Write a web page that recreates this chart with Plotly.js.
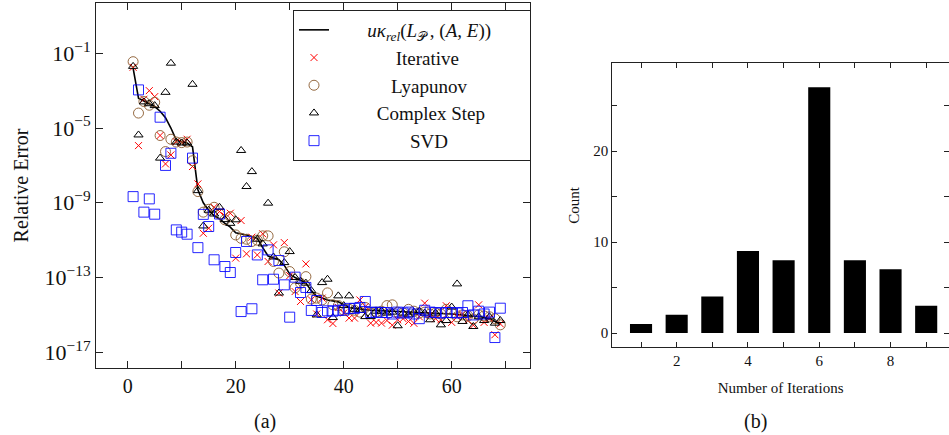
<!DOCTYPE html>
<html>
<head>
<meta charset="utf-8">
<script src="https://cdn.plot.ly/plotly-3.0.1.min.js"></script>
<style>html,body{margin:0;padding:0;background:#fff;}#chart{width:949px;height:435px;}</style>
</head>
<body>
<div id="chart"></div>
<script>
// ---- Data: panel (a) ----
const problemIndex = [1,2,3,4,5,6,7,8,9,10,11,12,13,14,15,16,17,18,19,20,21,22,23,24,25,26,27,28,29,30,31,32,33,34,35,36,37,38,39,40,41,42,43,44,45,46,47,48,49,50,51,52,53,54,55,56,57,58,59,60,61,62,63,64,65,66,67,68,69];
// values stored as log10 of relative error
const kappaLog10 = [-1.8,-3.4,-3.55,-3.7,-3.85,-4.1,-4.45,-5.0,-5.65,-5.75,-5.8,-6.0,-8.3,-9.0,-9.4,-9.7,-9.85,-10.1,-10.3,-10.6,-10.65,-10.72,-10.8,-10.9,-11.4,-11.85,-11.95,-12.05,-12.35,-12.8,-13.0,-13.15,-13.3,-13.7,-14.0,-14.1,-14.2,-14.25,-14.3,-14.45,-14.6,-14.65,-14.7,-14.72,-14.75,-14.77,-14.78,-14.8,-14.8,-14.82,-14.83,-14.84,-14.85,-14.85,-14.86,-14.87,-14.88,-14.9,-14.92,-14.95,-14.97,-15.0,-15.02,-15.05,-15.08,-15.12,-15.2,-15.35,-15.5];
const iterativeLog10 = [-1.75,-5.94,-3.46,-3.0,-3.32,-5.4,-6.92,-6.44,-5.73,-5.78,-5.6,-7.06,-7.99,-10.63,-10.36,-9.24,-9.47,-9.7,-9.56,-11.96,-9.95,-11.73,-10.84,-11.79,-10.66,-12.14,-11.25,-13.83,-11.13,-12.9,-13.75,-14.28,-12.27,-14.19,-14.95,-14.1,-15.26,-15.46,-14.6,-14.9,-15.17,-15.17,-14.2,-14.55,-15.44,-15.4,-15.44,-15.3,-15.55,-15.26,-15.2,-15.35,-15.45,-15.1,-14.37,-15.0,-15.2,-15.26,-14.51,-15.4,-15.1,-14.95,-15.3,-15.55,-14.46,-15.4,-15.2,-16.06,-15.48];
const lyapunovLog10 = [-1.45,-4.2,-3.58,-3.78,-3.62,-5.4,-6.26,-5.6,-5.75,-5.78,-5.75,-6.75,-8.4,-9.5,-9.35,-9.24,-9.6,-9.91,-9.74,-10.72,-10.9,-10.95,-11.07,-11.0,-10.77,-10.77,-12.14,-12.76,-11.62,-12.68,-13.55,-13.3,-12.95,-14.15,-14.1,-14.2,-13.82,-14.46,-14.5,-14.75,-14.7,-14.75,-14.85,-14.6,-14.9,-14.85,-14.8,-14.5,-14.46,-14.85,-14.9,-14.7,-14.8,-14.9,-14.85,-14.95,-14.9,-14.95,-14.7,-14.9,-15.1,-15.0,-15.05,-15.22,-15.0,-15.05,-15.1,-15.2,-15.53];
const complexStepLog10 = [-1.7,-5.37,-3.6,-3.7,-3.8,-6.61,-3.09,-1.53,-5.75,-5.8,-5.8,-2.66,-8.35,-10.24,-9.4,-9.6,-9.24,-9.9,-10.1,-9.91,-6.2,-8.13,-7.33,-10.95,-11.2,-9.02,-11.9,-13.83,-12.2,-11.61,-13.0,-13.2,-13.3,-13.7,-15.0,-13.27,-13.09,-15.14,-13.98,-14.5,-13.98,-14.7,-14.75,-15.09,-15.09,-14.8,-14.8,-14.9,-14.85,-15.58,-14.9,-15.0,-14.85,-14.8,-14.9,-15.26,-14.9,-15.53,-15.3,-14.58,-13.34,-15.35,-15.0,-15.62,-15.1,-15.3,-15.1,-15.44,-15.3];
const svdLog10 = [-8.67,-2.96,-9.5,-8.79,-9.61,-4.42,-7.0,-6.35,-10.45,-10.57,-10.68,-6.61,-11.4,-9.62,-10.27,-12.05,-9.6,-12.41,-12.73,-11.66,-14.82,-11.07,-14.67,-11.79,-13.12,-11.52,-13.09,-12.09,-13.39,-15.12,-12.98,-13.8,-13.53,-14.76,-14.23,-14.87,-14.78,-14.8,-14.75,-14.75,-14.65,-14.65,-14.6,-14.28,-14.87,-14.85,-14.87,-14.87,-14.95,-14.85,-14.9,-14.85,-14.95,-15.2,-14.75,-14.85,-14.87,-14.9,-14.87,-14.87,-14.9,-14.87,-14.51,-15.0,-14.8,-14.95,-14.85,-16.21,-14.64];
const yTickVals = [1e-17, 1e-13, 1e-9, 1e-5, 1e-1];
const yTickText = ['10<sup>−17</sup>','10<sup>−13</sup>','10<sup>−9</sup>','10<sup>−5</sup>','10<sup>−1</sup>'];
const xTickVals = [0,10,20,30,40,50,60,70];
const xTickText = ['0','','20','','40','','60',''];

// ---- Data: panel (b) ----
const iterations = [1,2,3,4,5,6,7,8,9];
const counts = [1,2,4,9,8,27,8,7,3];
const bTickVals = [1,2,3,4,5,6,7,8,9];
const bTickText = ['','2','','4','','6','','8',''];
const cTickVals = [0,5,10,15,20,25];
const cTickText = ['0','','10','','20',''];

const toVal = a => a.map(v => Math.pow(10, v));
const pad = n => '\u00A0'.repeat(n);
const serif = 'Liberation Serif, Times New Roman, serif';

const traces = [
  {x: problemIndex, y: toVal(kappaLog10), type: 'scatter', mode: 'lines',
   name: pad(7) + '<i>uκ</i><sub><i>rel</i></sub>(<i>L</i><sub>𝒫</sub>\u2009, (<i>A</i>, <i>E</i>))' + pad(7),
   line: {color: '#000', width: 1.6}, legendgroup: 'g1', xaxis: 'x', yaxis: 'y'},
  {x: problemIndex, y: toVal(iterativeLog10), type: 'scatter', mode: 'markers',
   name: pad(13) + 'Iterative', legendgroup: 'g2',
   marker: {symbol: 'x-thin-open', size: 7, color: '#ff0000', line: {color: '#ff0000', width: 1}}, xaxis: 'x', yaxis: 'y'},
  {x: problemIndex, y: toVal(lyapunovLog10), type: 'scatter', mode: 'markers',
   name: pad(12) + 'Lyapunov', legendgroup: 'g3',
   marker: {symbol: 'circle-open', size: 10, color: '#8a5a2e', opacity: 0.9, line: {color: '#8a5a2e', width: 1}}, xaxis: 'x', yaxis: 'y'},
  {x: problemIndex, y: toVal(complexStepLog10), type: 'scatter', mode: 'markers',
   name: pad(9) + 'Complex Step', legendgroup: 'g4',
   marker: {symbol: 'triangle-up-open', size: 8, color: '#000', line: {color: '#000', width: 1}}, xaxis: 'x', yaxis: 'y'},
  {x: problemIndex, y: toVal(svdLog10), type: 'scatter', mode: 'markers',
   name: pad(16) + 'SVD', legendgroup: 'g5',
   marker: {symbol: 'square-open', size: 10, color: '#0000ff', opacity: 0.85, line: {color: '#0000ff', width: 1}}, xaxis: 'x', yaxis: 'y'},
  {x: iterations, y: counts, type: 'bar', width: 0.62, showlegend: false,
   marker: {color: '#000', line: {width: 0}}, xaxis: 'x2', yaxis: 'y2'}
];

const axisCommon = {
  showline: true, linecolor: '#222', linewidth: 1, mirror: 'ticks',
  ticks: 'inside', tickcolor: '#222', showgrid: false, zeroline: false,
  tickmode: 'array'
};

const layout = {
  width: 949, height: 435,
  margin: {l: 0, r: 0, t: 0, b: 0},
  paper_bgcolor: '#fff', plot_bgcolor: '#fff',
  font: {family: serif, color: '#111', size: 18},
  showlegend: true,
  legend: {x: 293/949, xanchor: 'left', y: 1 - 10/435, yanchor: 'top',
    bgcolor: '#fff', bordercolor: '#222', borderwidth: 1,
    font: {family: serif, size: 19, color: '#111'},
    traceorder: 'grouped', tracegroupgap: 0, itemwidth: 30},
  xaxis: Object.assign({}, axisCommon, {domain: [96/949, 530/949], range: [-5.87, 74.5],
    tickvals: xTickVals, ticktext: xTickText, ticklen: 7, tickfont: {size: 20}, anchor: 'y'}),
  yaxis: Object.assign({}, axisCommon, {domain: [67/435, 432/435], type: 'log', range: [-17.84, 1.69],
    tickvals: yTickVals, ticktext: yTickText, ticklen: 7, tickfont: {size: 22}, anchor: 'x',
    title: {text: 'Relative Error', font: {size: 20}, standoff: 10}}),
  xaxis2: Object.assign({}, axisCommon, {domain: [612.3/949, 1], range: [0.194, 9.64],
    tickvals: bTickVals, ticktext: bTickText, ticklen: 5, tickfont: {size: 15}, anchor: 'y2',
    title: {text: 'Number of Iterations', font: {size: 15}, standoff: 14}}),
  yaxis2: Object.assign({}, axisCommon, {domain: [87.7/435, 371.7/435], range: [-1.57, 29.64],
    tickvals: cTickVals, ticktext: cTickText, ticklen: 5, tickfont: {size: 15}, anchor: 'x2',
    title: {text: 'Count', font: {size: 15}, standoff: 10}}),
  annotations: [
    {text: '(a)', xref: 'paper', yref: 'paper', x: 265/949, y: 1 - 421/435, xanchor: 'center', yanchor: 'middle', showarrow: false, font: {size: 20}},
    {text: '(b)', xref: 'paper', yref: 'paper', x: 755/949, y: 1 - 421.7/435, xanchor: 'center', yanchor: 'middle', showarrow: false, font: {size: 20}}
  ]
};

Plotly.newPlot('chart', traces, layout, {displayModeBar: false, staticPlot: true});
</script>
</body>
</html>
